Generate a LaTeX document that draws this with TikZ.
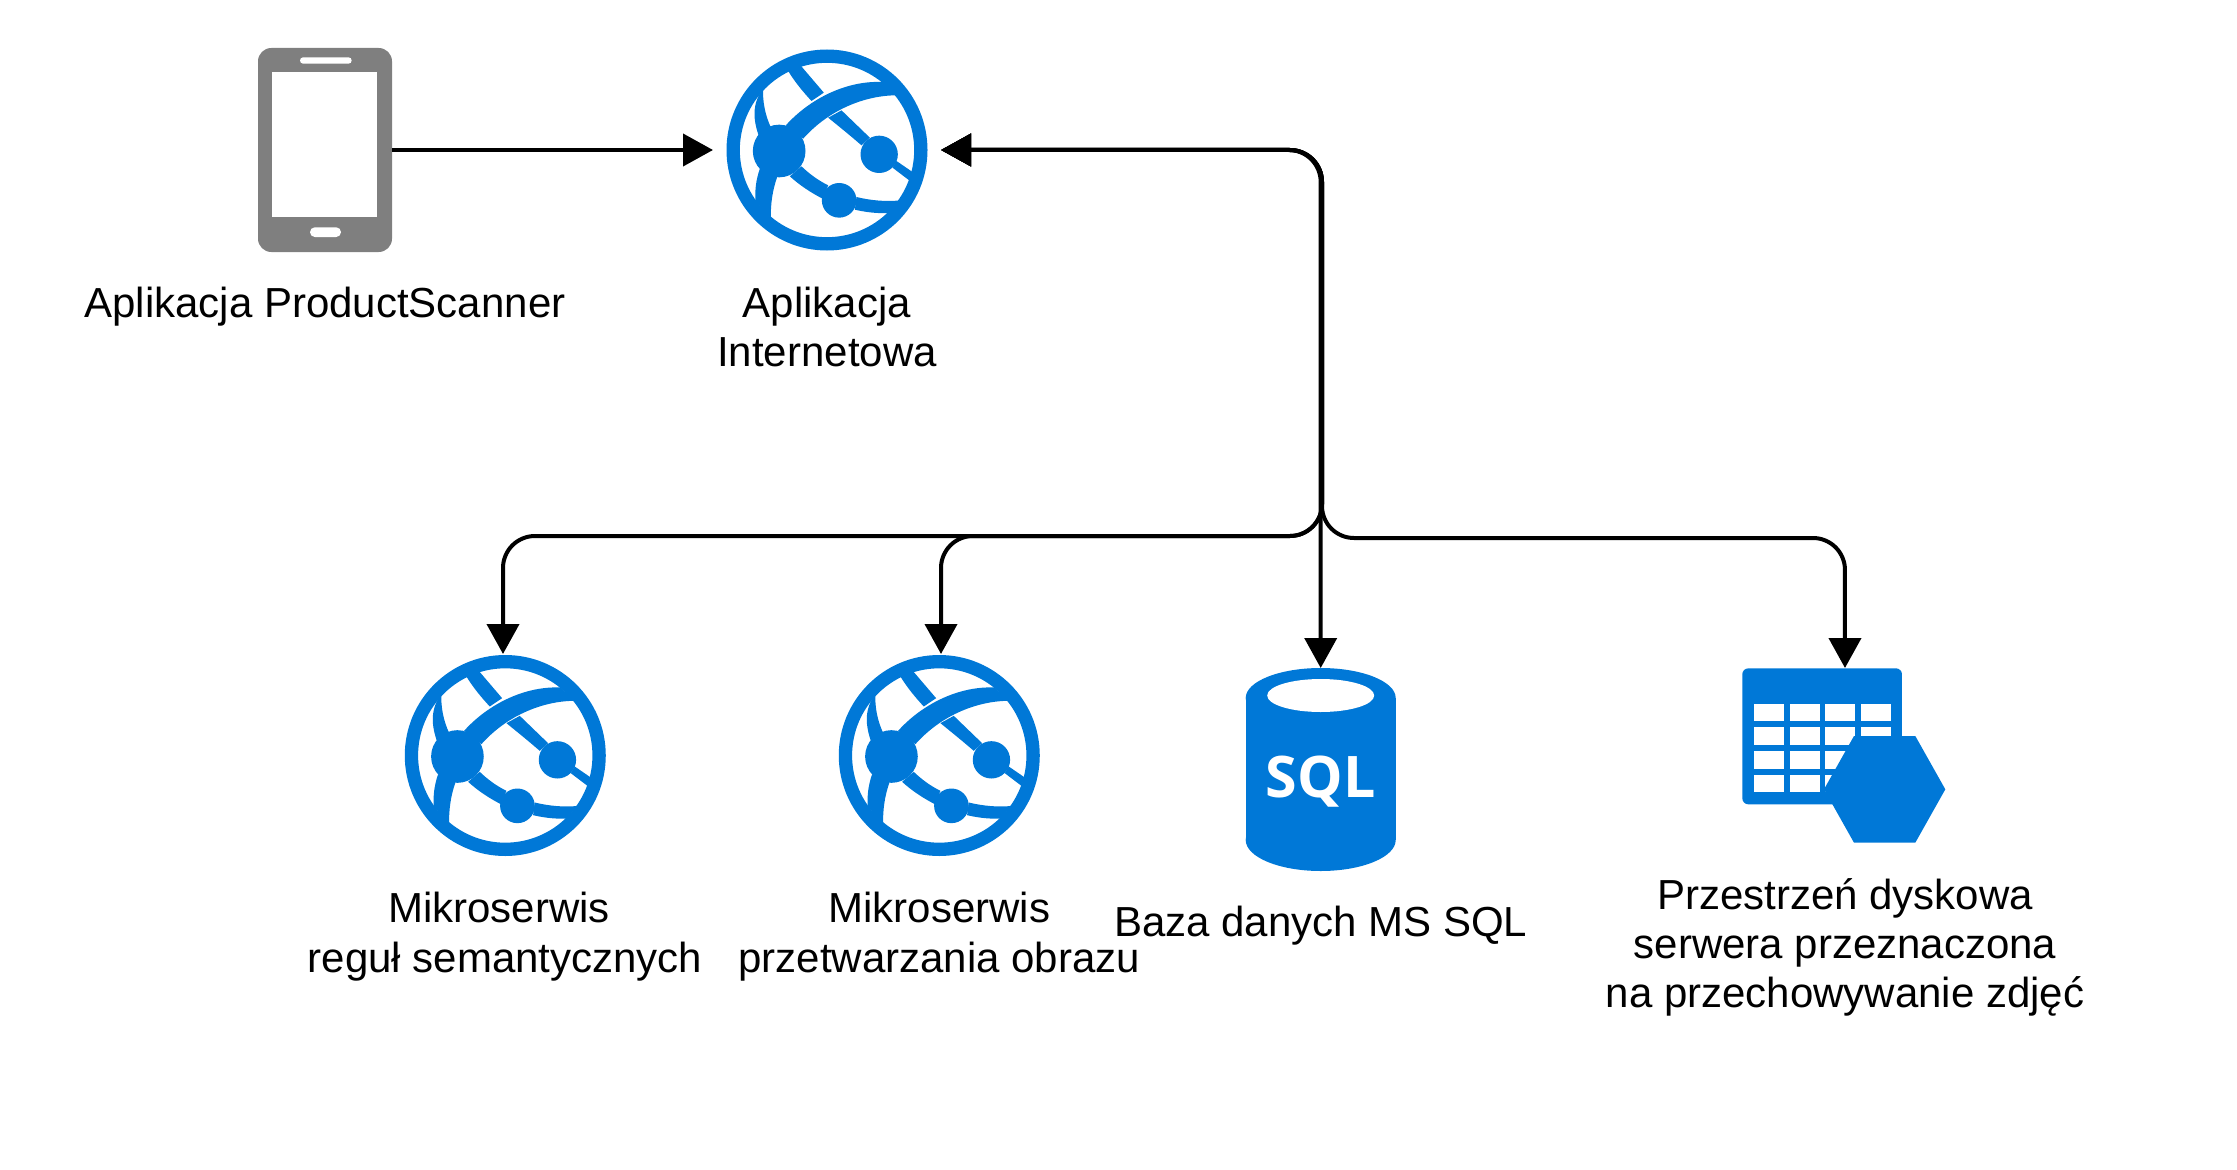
\documentclass[tikz,border=0pt]{standalone}
\usepackage{fontspec}
\setmainfont{Liberation Sans}
\newfontfamily\sqlfont{Open Sans}
\usetikzlibrary{arrows.meta,positioning}
\definecolor{iconblue}{HTML}{0078D7}
\definecolor{phonegray}{HTML}{7F7F7F}
\tikzset{
	iconbox/.style={inner sep=0pt,outer sep=0pt,minimum width=#1},
	caption/.style={align=center,inner sep=0pt,font=\fontsize{31.5}{37}\selectfont},
	link/.style={{Triangle[length=22.5pt,width=24pt]}-{Triangle[length=22.5pt,width=24pt]},line width=3pt,rounded corners=24pt},
	pics/phoneicon/.style={code={
		\fill[phonegray,rounded corners=10pt] (-67,-102) rectangle (67,102);
		\fill[white] (-53,-78) rectangle (52,67);
		\fill[white,rounded corners=2.4pt] (-25,-92.7) rectangle (26.7,-86.3);
		\fill[white,rounded corners=3.6pt] (-15,77.3) rectangle (16,87);
	}},
	pics/webicon/.style={code={
		\begin{scope}[x=.25pt,y=-.25pt,shift={(-381.5,-359)},iconblue]
			\draw[line width=10pt] (381.5,359) circle[radius=281.5];
			\fill (238,362) circle[radius=79];
			\fill (538,372) circle[radius=56];
			\fill (418,510) circle[radius=52];
			\fill (258,285) .. controls (330,205) and (440,150) .. (548,155) -- (590,195) .. controls (500,195) and (390,235) .. (310,325) -- cycle;
			\fill (190,175) .. controls (155,220) and (160,270) .. (178,320) -- (215,295) .. controls (195,255) and (188,210) .. (190,175) -- cycle;
			\fill (180,415) .. controls (168,450) and (165,480) .. (167,512) -- (213,568) .. controls (212,520) and (218,480) .. (232,440) -- cycle;
			\fill (265,122) .. controls (285,155) and (310,185) .. (335,212) -- (372,187) -- (302,105) -- cycle;
			\fill (425,240) -- (510,322) -- (485,345) .. controls (450,315) .. (385,262) -- cycle;
			\fill (590,392) -- (638,425) -- (628,450) -- (578,412) -- cycle;
			\fill (305,408) .. controls (330,432) and (355,450) .. (385,465) -- (368,505) .. controls (330,485) and (300,465) .. (270,438) -- cycle;
			\fill (470,500) .. controls (510,510) and (560,515) .. (600,510) -- (565,548) .. controls (530,550) and (495,545) .. (465,538) -- cycle;
		\end{scope}
	}},
	pics/sqlicon/.style={code={
		\fill[iconblue] (0,-71.5) ellipse[x radius=75,y radius=30];
		\fill[iconblue] (0,70.5) ellipse[x radius=75,y radius=31];
		\fill[iconblue] (-75,-71.5) rectangle (75,70.5);
		\fill[white] (0,-74) ellipse[x radius=53.5,y radius=16.5];
		\node[anchor=base,inner sep=0pt,text=white,font=\sqlfont\bfseries\fontsize{43}{43}\selectfont] (sqlText) at (0,27.5) {SQL};
	}},
	pics/diskicon/.style={code={
		\begin{scope}[x=.25pt,y=-.25pt,shift={(-345,-316.5)}]
			\fill[iconblue,rounded corners=4.5pt] (37,55) rectangle (516,463);
			\foreach \cellx in {73,180,286,393}
				\foreach \celly in {161,232,303,374}
					\fill[white] (\cellx,\celly) rectangle ++(89,53);
			\fill[iconblue] (372,258) -- (556,258) -- (646,418) -- (556,578) -- (372,578) -- (282,418) -- cycle;
		\end{scope}
	}}
}
\begin{document}
\begin{tikzpicture}[x=.75pt,y=-.75pt,node distance=26.3pt]
	\useasboundingbox (0,0) rectangle (2237,1170);
	\node[iconbox=100.5pt,minimum height=153pt] (nodePhone) at (325,150) {};
	\node[iconbox=171pt,minimum height=152.25pt] (nodeWeb) [right=240.75pt of nodePhone] {};
	\node[iconbox=152.25pt,minimum height=152.25pt] (nodeRules) at (503,755.5) {};
	\node[iconbox=152.25pt,minimum height=152.25pt] (nodeImage) [right=176.25pt of nodeRules] {};
	\node[iconbox=112.5pt,minimum height=152.25pt] (nodeSql) [right=152.4pt of nodeImage,yshift=-10.5pt] {};
	\node[iconbox=154pt,minimum height=131.25pt] (nodeDisk) [right=259.95pt of nodeSql,yshift=10.5pt] {};
	\pic at (nodePhone) {phoneicon};
	\pic at (nodeWeb) {webicon};
	\pic at ([xshift=1.7pt]nodeRules) {webicon};
	\pic at ([xshift=-1.3pt]nodeImage) {webicon};
	\pic at (nodeSql) {sqlicon};
	\pic at (nodeDisk) {diskicon};
	\node[caption] (textPhone) [below=of nodePhone] {Aplikacja ProductScanner};
	\node[caption] (textWeb) [below=of nodeWeb] {Aplikacja\\Internetowa};
	\node[caption] (textRules) [below=of nodeRules,xshift=1.5pt] {Mikroserwis\hspace*{.278em}\\regu\l{} semantycznych};
	\node[caption] (textImage) [below=of nodeImage,xshift=-1.3pt] {Mikroserwis\\przetwarzania obrazu};
	\node[caption] (textSql) [below=of nodeSql] {Baza danych MS SQL};
	\node[caption] (textDisk) [below=of nodeDisk] {Przestrzeń dyskowa\\serwera przeznaczona\\na przechowywanie zdjęć};
	\coordinate (busLeft) at (1322,536);
	\coordinate (busRight) at (1322,538);
	\draw[-{Triangle[length=22.5pt,width=24pt]},line width=3pt] (nodePhone.east) -- (nodeWeb.west);
	\draw[link] (nodeWeb.east) -| (busLeft) -| (nodeRules.north);
	\draw[link] (nodeWeb.east) -| (busLeft) -| (nodeImage.north);
	\draw[link] (nodeWeb.east) -| (nodeSql.north);
	\draw[link] (nodeWeb.east) -| (busRight) -| (nodeDisk.north);
\end{tikzpicture}
\end{document}
